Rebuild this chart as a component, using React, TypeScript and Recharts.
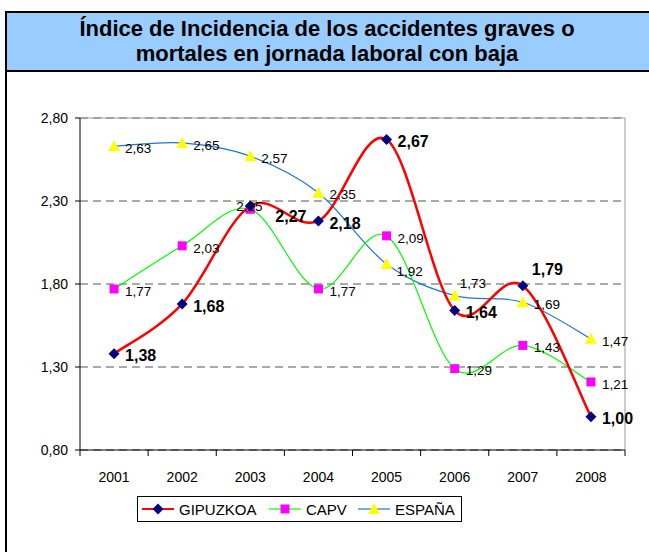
import React from "react";
import { LineChart, Line, XAxis, YAxis, CartesianGrid, ReferenceLine } from "recharts";

const years = ["2001", "2002", "2003", "2004", "2005", "2006", "2007", "2008"];
const gipuzkoa = [1.38, 1.68, 2.27, 2.18, 2.67, 1.64, 1.79, 1.0];
const capv = [1.77, 2.03, 2.25, 1.77, 2.09, 1.29, 1.43, 1.21];
const espana = [2.63, 2.65, 2.57, 2.35, 1.92, 1.73, 1.69, 1.47];
const yTicks = [0.8, 1.3, 1.8, 2.3, 2.8];

const data = years.map((year, i) => ({
  x: i + 0.5,
  year,
  gipuzkoa: gipuzkoa[i],
  capv: capv[i],
  espana: espana[i],
}));

const xTicks = years.flatMap((_, i) => [i, i + 0.5]).concat(years.length);

// label nudges where the original chart moved a label off its default spot
const gipNudge: Record<number, [number, number]> = { 2: [25, 10], 6: [9, -16] };
const capvNudge: Record<number, [number, number]> = { 2: [-14, -3] };
const espNudge: Record<number, [number, number]> = { 4: [10, 7], 5: [5, -12] };

const NARROW = "'Liberation Sans Narrow', 'Arial Narrow', 'Liberation Sans', Arial, sans-serif";
const SANS = "'Liberation Sans', Arial, sans-serif";

const fmt = (v: number) => v.toFixed(2).replace(".", ",");

// Excel style smoothed line (Catmull-Rom through every point)
function excelCurve(context: any) {
  let pts: number[][] = [];
  return {
    areaStart() {},
    areaEnd() {},
    lineStart() {
      pts = [];
    },
    point(x: number, y: number) {
      pts.push([+x, +y]);
    },
    lineEnd() {
      const n = pts.length;
      if (!n) return;
      context.moveTo(pts[0][0], pts[0][1]);
      for (let i = 0; i < n - 1; i++) {
        const p0 = pts[Math.max(i - 1, 0)];
        const p1 = pts[i];
        const p2 = pts[i + 1];
        const p3 = pts[Math.min(i + 2, n - 1)];
        context.bezierCurveTo(
          p1[0] + (p2[0] - p0[0]) / 6,
          p1[1] + (p2[1] - p0[1]) / 6,
          p2[0] - (p3[0] - p1[0]) / 6,
          p2[1] - (p3[1] - p1[1]) / 6,
          p2[0],
          p2[1]
        );
      }
    },
  };
}

const Diamond = ({ cx, cy }: { cx: number; cy: number }) => (
  <path d={`M${cx},${cy - 5.5}L${cx + 5.5},${cy}L${cx},${cy + 5.5}L${cx - 5.5},${cy}Z`} fill="#000080" />
);
const Square = ({ cx, cy }: { cx: number; cy: number }) => (
  <rect x={cx - 4.5} y={cy - 4.5} width={9} height={9} fill="#FF00FF" />
);
const Triangle = ({ cx, cy }: { cx: number; cy: number }) => (
  <path d={`M${cx},${cy - 6}L${cx + 6},${cy + 5}L${cx - 6},${cy + 5}Z`} fill="#FFFF00" />
);

function makeLabel(nudge: Record<number, [number, number]>, bold: boolean) {
  return (props: any) => {
    const { x, y, value, index } = props;
    const [dx, dy] = nudge[index] || [11, 2];
    return (
      <text
        key={`l${index}`}
        x={x + dx}
        y={y + dy}
        dy="0.35em"
        fontFamily={bold ? SANS : NARROW}
        fontSize={bold ? 16 : 13.5}
        fontWeight={bold ? "bold" : "normal"}
        fill="#000"
      >
        {fmt(value)}
      </text>
    );
  };
}

const XTick = (props: any) => {
  const { x, y, payload } = props;
  const v = payload.value as number;
  if (Number.isInteger(v)) {
    return <line x1={x} x2={x} y1={y} y2={y + 6} stroke="#000" />;
  }
  return (
    <text x={x} y={y + 32} textAnchor="middle" fontFamily={SANS} fontSize={14} fill="#000">
      {years[Math.floor(v)]}
    </text>
  );
};

function LegendItem({ color, marker, label, width }: { color: string; marker: React.ReactNode; label: string; width: number }) {
  return (
    <div style={{ display: "flex", alignItems: "center", width }}>
      <svg width={36} height={14}>
        <line x1={2} x2={34} y1={7} y2={7} stroke={color} strokeWidth={color === "#FF0000" ? 2 : 1.2} />
        {marker}
      </svg>
      <span style={{ marginLeft: 3 }}>{label}</span>
    </div>
  );
}

export default function App() {
  return (
    <div style={{ position: "absolute", top: 0, left: 0, width: 649, height: 552, overflow: "hidden", background: "#fff" }}>
      {/* frame + title */}
      <div
        style={{
          position: "absolute",
          left: 5,
          top: 11,
          width: 700,
          height: 600,
          border: "2px solid #000",
          boxSizing: "border-box",
        }}
      />
      <div
        style={{
          position: "absolute",
          left: 7,
          top: 13,
          width: 700,
          height: 57,
          background: "#99CCFF",
          borderBottom: "2px solid #000",
        }}
      >
        <div
          style={{
            width: 640,
            textAlign: "center",
            fontFamily: NARROW,
            fontWeight: "bold",
            fontSize: 22,
            lineHeight: "25px",
            paddingTop: 3,
            color: "#000",
          }}
        >
          Índice de Incidencia de los accidentes graves o
          <br />
          mortales en jornada laboral con baja
        </div>
      </div>

      <div style={{ position: "absolute", top: 0, left: 0 }}>
        <LineChart width={649} height={552} data={data} margin={{ top: 118, right: 24, bottom: 72, left: 0 }}>
          <CartesianGrid vertical={false} stroke="#555" strokeDasharray="8 5" />
          <ReferenceLine y={2.8} stroke="#999" strokeDasharray="" />
          <ReferenceLine x={8} stroke="#999" strokeDasharray="" />
          <XAxis
            type="number"
            dataKey="x"
            domain={[0, 8]}
            ticks={xTicks}
            interval={0}
            tickLine={false}
            tickSize={0}
            tickMargin={0}
            height={30}
            axisLine={{ stroke: "#000" }}
            tick={<XTick />}
          />
          <YAxis
            domain={[0.8, 2.8]}
            ticks={yTicks}
            width={80}
            tickFormatter={fmt}
            tickSize={5}
            tickMargin={7}
            axisLine={{ stroke: "#000" }}
            tickLine={{ stroke: "#000" }}
            tick={{ fill: "#000", fontSize: 14, fontFamily: SANS }}
          />
          <Line
            dataKey="espana"
            type={excelCurve as any}
            stroke="#1F77D0"
            strokeWidth={1.2}
            isAnimationActive={false}
            dot={(p: any) => <Triangle key={`t${p.index}`} cx={p.cx} cy={p.cy} />}
            label={makeLabel(espNudge, false)}
          />
          <Line
            dataKey="capv"
            type={excelCurve as any}
            stroke="#00FF00"
            strokeWidth={1.2}
            isAnimationActive={false}
            dot={(p: any) => <Square key={`s${p.index}`} cx={p.cx} cy={p.cy} />}
            label={makeLabel(capvNudge, false)}
          />
          <Line
            dataKey="gipuzkoa"
            type={excelCurve as any}
            stroke="#FF0000"
            strokeWidth={2.5}
            isAnimationActive={false}
            dot={(p: any) => <Diamond key={`d${p.index}`} cx={p.cx} cy={p.cy} />}
            label={makeLabel(gipNudge, true)}
          />
        </LineChart>
      </div>

      {/* legend */}
      <div
        style={{
          position: "absolute",
          left: 137,
          top: 496,
          width: 325,
          height: 26,
          border: "1px solid #000",
          boxSizing: "border-box",
          display: "flex",
          alignItems: "center",
          paddingLeft: 2,
          fontFamily: SANS,
          fontSize: 15,
          color: "#000",
        }}
      >
        <LegendItem color="#FF0000" label="GIPUZKOA" width={127} marker={<Diamond cx={18} cy={7} />} />
        <LegendItem color="#00FF00" label="CAPV" width={89} marker={<Square cx={18} cy={7} />} />
        <LegendItem color="#1F77D0" label="ESPAÑA" width={105} marker={<Triangle cx={18} cy={7} />} />
      </div>
    </div>
  );
}
